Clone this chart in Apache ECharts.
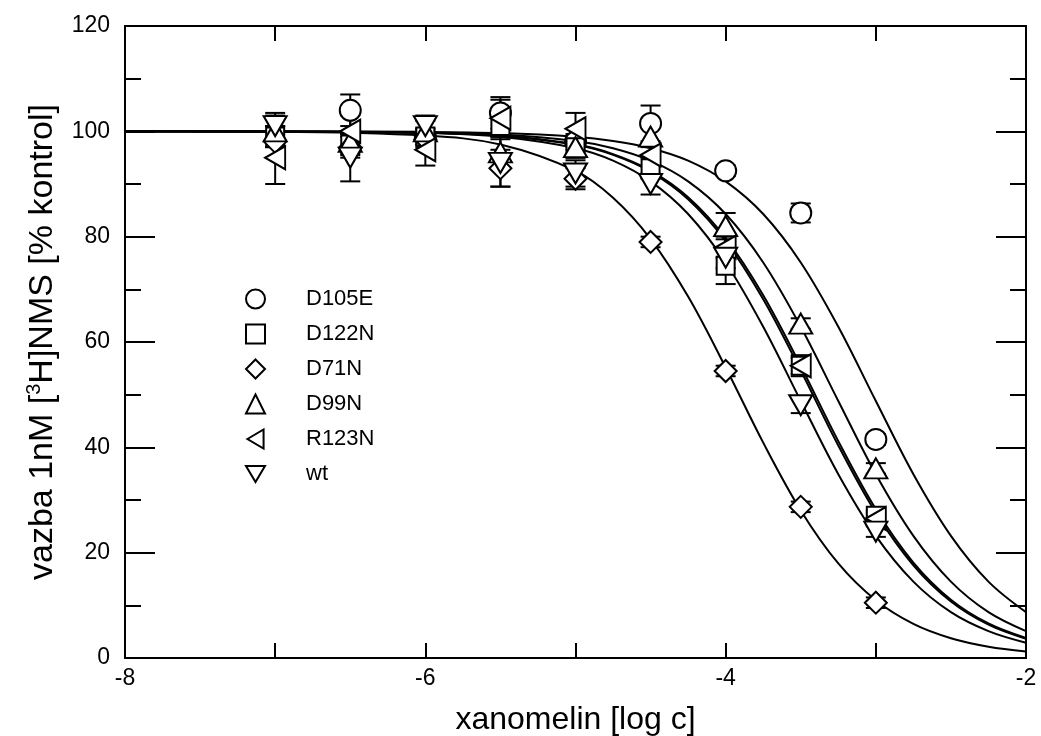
<!DOCTYPE html>
<html>
<head>
<meta charset="utf-8">
<script src="https://cdn.jsdelivr.net/npm/echarts@6/dist/echarts.min.js"></script>
<style>
  html, body { margin: 0; padding: 0; background: #fff; }
  #chart { width: 1041px; height: 736px; }
</style>
</head>
<body>
<div id="chart"></div>
<script>
// concentrations measured (log c)
const doses = [-7, -6.5, -6, -5.5, -5, -4.5, -4, -3.5, -3]

// measured binding, % of control, and error bar half-heights
const d105eMean = [null, 104, 99, 103.5, 98, 101.5, 92.5, 84.5, 41.5]
const d105eErr  = [null, 3, 1.5, 3, 1.5, 3.4, 1, 1.8, 1]
const d122nMean = [99, 97.5, 99, 101, 97, 93, 74.5, 55.5, 27]
const d122nErr  = [2, 2, 1.5, 2, 2, 2, 3.5, 1.5, 1]
const d71nMean  = [98, 97, 98.5, 93, 91, 79, 54.5, 28.7, 10.5]
const d71nErr   = [3, 2, 1.5, 3.5, 2, 1, 1, 1, 1]
const d99nMean  = [100, 98, 100, 96, 97, 99, 82, 63.5, 36]
const d99nErr   = [3, 2, 2, 3, 2, 2, 2.5, 1, 1]
const r123nMean = [95, 100, 96.5, 102.5, 100.5, 95.5, 78, 55.5, 26.5]
const r123nErr  = [5, 3, 3, 3.5, 3, 2, 2, 2, 1]
const wtMean    = [101, 95, 101, 94, 92, 90, 76, 48, 24]
const wtErr     = [2.5, 4.5, 2, 4.5, 2.5, 2, 2, 1.5, 1]

// fitted curves
const curveX   = [-8, -7, -6, -5.5, -5, -4.75, -4.5, -4.25, -4, -3.75, -3.5, -3.25, -3, -2.75, -2.5, -2.25, -2]
const d105eFit = [100, 99.99, 99.9, 99.67, 98.96, 98.17, 96.8, 94.44, 90.5, 84.3, 75.1, 62.9, 48.8, 34.9, 23.2, 14.5, 8.7]
const d122nFit = [100, 99.97, 99.74, 99.17, 97.44, 95.53, 92.32, 87.12, 79.17, 68.13, 54.59, 40.34, 27.55, 17.61, 10.73, 6.33, 3.66]
const d71nFit  = [99.99, 99.92, 99.19, 97.49, 92.48, 87.37, 79.55, 68.63, 55.16, 40.89, 28.01, 17.95, 10.96, 6.47, 3.75, 2.14, 1.22]
const d99nFit  = [100, 99.98, 99.81, 99.41, 98.17, 96.8, 94.44, 90.5, 84.3, 75.1, 62.9, 48.8, 34.9, 23.2, 14.5, 8.7, 5.1]
const r123nFit = [100, 99.975, 99.75, 99.2, 97.53, 95.68, 92.56, 87.5, 79.73, 68.87, 55.45, 41.18, 28.25, 18.13, 11.07, 6.55, 3.79]
const wtFit    = [100, 99.97, 99.67, 98.96, 96.8, 94.44, 90.5, 84.3, 75.1, 62.9, 48.8, 34.9, 23.2, 14.5, 8.7, 5.1, 2.9]

const groups = [
    { name: 'D105E', mean: d105eMean, err: d105eErr, fit: d105eFit, symbol: 'circle', size: 21 },
    { name: 'D122N', mean: d122nMean, err: d122nErr, fit: d122nFit, symbol: 'rect', size: 18 },
    { name: 'D71N', mean: d71nMean, err: d71nErr, fit: d71nFit, symbol: 'diamond', size: [22, 22] },
    { name: 'D99N', mean: d99nMean, err: d99nErr, fit: d99nFit, symbol: 'triangle', size: [23, 20] },
    { name: 'R123N', mean: r123nMean, err: r123nErr, fit: r123nFit, symbol: 'path://M0,10L17,0L17,20Z', size: [20, 23] },
    { name: 'wt', mean: wtMean, err: wtErr, fit: wtFit, symbol: 'path://M0,0L20,0L10,17Z', size: [23, 20] }
]

const FONT = 'Liberation Sans, Arial, Helvetica, sans-serif'

function pairs(xs, ys) {
    return xs.map((x, i) => ys[i] == null ? null : [x, ys[i]]).filter(p => p)
}

function errorBar(params, api) {
    const x = api.value(0), y = api.value(1), e = api.value(2)
    const top = api.coord([x, y + e])
    const bot = api.coord([x, y - e])
    const w = 10
    const style = { stroke: '#000', lineWidth: 2 }
    return {
        type: 'group',
        children: [
            { type: 'line', shape: { x1: top[0], y1: top[1], x2: bot[0], y2: bot[1] }, style },
            { type: 'line', shape: { x1: top[0] - w, y1: top[1], x2: top[0] + w, y2: top[1] }, style },
            { type: 'line', shape: { x1: bot[0] - w, y1: bot[1], x2: bot[0] + w, y2: bot[1] }, style }
        ]
    }
}

const series = []
groups.forEach(g => {
    series.push({
        name: g.name + ' fit',
        type: 'line',
        data: pairs(curveX, g.fit),
        smooth: 0.35,
        showSymbol: false,
        lineStyle: { color: '#000', width: 2 },
        z: 1
    })
})
groups.forEach(g => {
    series.push({
        name: g.name + ' err',
        type: 'custom',
        renderItem: errorBar,
        data: doses.map((x, i) => g.mean[i] == null ? null : [x, g.mean[i], g.err[i]]).filter(p => p),
        encode: { x: 0, y: 1 },
        z: 2
    })
})
groups.forEach(g => {
    series.push({
        name: g.name,
        type: 'scatter',
        data: pairs(doses, g.mean),
        symbol: g.symbol,
        symbolSize: g.size,
        itemStyle: { color: '#fff', borderColor: '#000', borderWidth: 2, opacity: 1 },
        z: 3
    })
})

const xCommon = {
    type: 'value', min: -8, max: -2, interval: 1,
    axisLine: { onZero: false, lineStyle: { color: '#000', width: 2 } },
    axisTick: { inside: true, length: 15, lineStyle: { color: '#000', width: 2 } },
    splitLine: { show: false }
}
const yCommon = {
    type: 'value', min: 0, max: 120, interval: 20,
    axisLine: { show: true, onZero: false, lineStyle: { color: '#000', width: 2 } },
    axisTick: { show: true, inside: true, length: 30, lineStyle: { color: '#000', width: 2 } },
    minorTick: { show: true, splitNumber: 2, length: 16, lineStyle: { color: '#000', width: 2 } },
    splitLine: { show: false }
}

const chart = echarts.init(document.getElementById('chart'))
chart.setOption({
    animation: false,
    backgroundColor: '#fff',
    grid: { left: 125, right: 15, top: 26, bottom: 78, outerBoundsMode: 'none' },
    xAxis: [
        Object.assign({}, xCommon, {
            position: 'bottom',
            name: 'xanomelin [log c]',
            nameLocation: 'middle',
            nameGap: 46,
            nameTextStyle: { fontFamily: FONT, fontSize: 32, color: '#000' },
            axisLabel: {
                fontFamily: FONT, fontSize: 23, color: '#000', margin: 9,
                formatter: v => (v % 2 === 0 ? String(v) : '')
            }
        }),
        Object.assign({}, xCommon, { position: 'top', axisLabel: { show: false } })
    ],
    yAxis: [
        Object.assign({}, yCommon, {
            position: 'left',
            name: 'vazba 1nM [{sup|3}H]NMS [% kontrol]',
            nameLocation: 'middle',
            nameRotate: 90,
            nameGap: 63,
            nameTextStyle: {
                fontFamily: FONT, fontSize: 34, color: '#000',
                rich: { sup: { fontFamily: FONT, fontSize: 20, color: '#000', padding: [0, 0, 18, 0] } }
            },
            axisLabel: { fontFamily: FONT, fontSize: 23, color: '#000', margin: 15 }
        }),
        Object.assign({}, yCommon, { position: 'right', axisLabel: { show: false } })
    ],
    legend: {
        data: groups.map(g => g.name),
        orient: 'vertical',
        left: 240,
        top: 283,
        itemWidth: 19,
        itemHeight: 19,
        itemGap: 13,
        selectedMode: false,
        itemStyle: { color: '#fff', borderColor: '#000', borderWidth: 2 },
        textStyle: { fontFamily: FONT, fontSize: 22, color: '#000', lineHeight: 22, padding: [0, 0, 0, 36] }
    },
    series: series
})
</script>
</body>
</html>
